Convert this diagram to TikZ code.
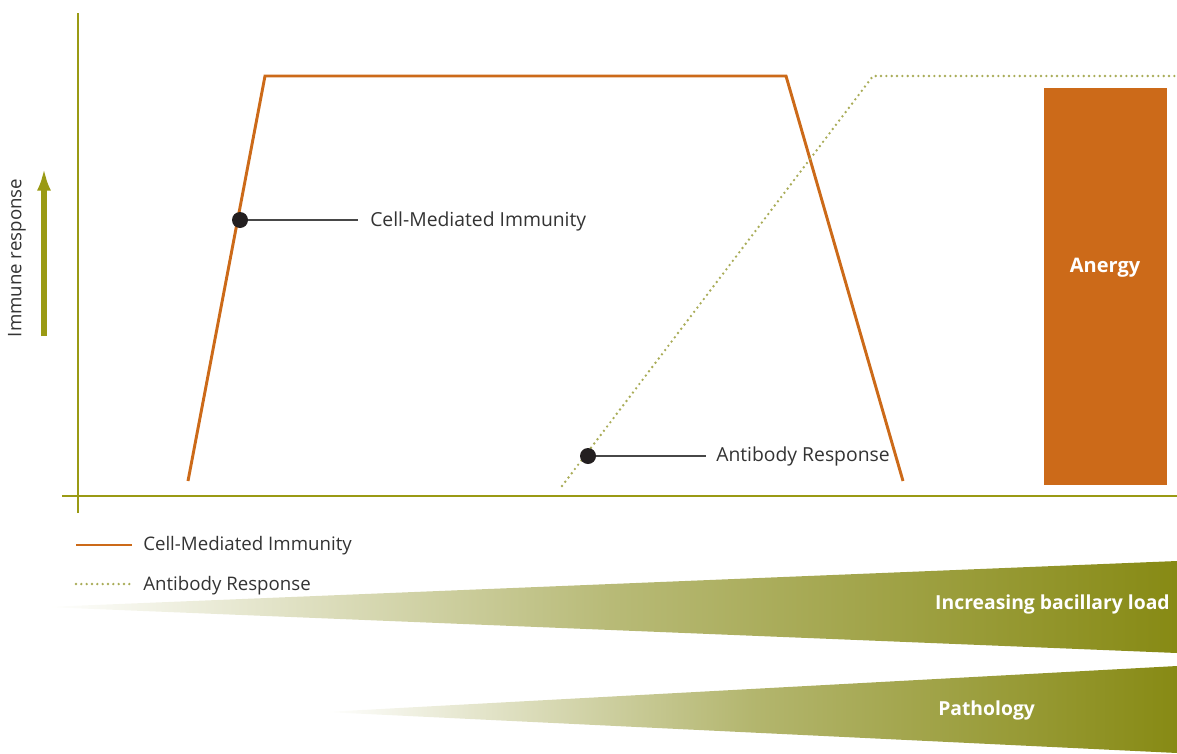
\documentclass[tikz,border=0pt]{standalone}
\usepackage{fontspec}
\setmainfont{Open Sans}
\usetikzlibrary{arrows.meta}
\definecolor{cmi}{HTML}{CC6A19}
\definecolor{axisc}{HTML}{9A9A14}
\definecolor{abc}{HTML}{A9AC58}
\definecolor{dotc}{HTML}{231F20}
\definecolor{txt}{HTML}{333333}
\definecolor{oliveend}{HTML}{878A14}
\definecolor{olivemid}{HTML}{A6A955}
\tikzset{
  axisline/.style={draw=axisc, line width=2.2pt},
  cmiline/.style={draw=cmi, line width=2.2pt, line join=miter},
  abline/.style={draw=abc, line width=2pt, line cap=round, dash pattern=on 0pt off 4pt},
  pointer/.style={draw=txt!90, line width=0.9pt},
  blob/.style={circle, fill=dotc, inner sep=0pt, minimum size=12pt},
  lbl/.style={text=txt, font=\fontsize{14}{16}\selectfont, anchor=west, inner sep=0pt},
  clbl/.style={text=txt, font=\fontsize{14.5}{17}\selectfont, anchor=west, inner sep=0pt},
  wlbl/.style={text=white, font=\bfseries\fontsize{14.5}{17}\selectfont, inner sep=0pt}
}
\begin{document}
\begin{tikzpicture}[x=0.75pt,y=-0.75pt]
\useasboundingbox (0,0) rectangle (1177,753);
% wedges
\shade[left color=white, right color=oliveend, middle color=olivemid!80!white] (45,607) -- (1177,561) -- (1177,653) -- cycle;
\shade[left color=white, right color=oliveend, middle color=olivemid!85!white] (325,712) -- (1177,666) -- (1177,753) -- cycle;
\node[wlbl, anchor=east] (bac) at (1170,604) {Increasing bacillary load};
\node[wlbl, anchor=west] (path) at (938,710) {Pathology};
% axes
\coordinate (yb) at (78,513);
\coordinate (yt) at (78,13);
\coordinate (xl) at (62,496);
\coordinate (xr) at (1177,496);
\draw[axisline] (yb) -- (yt);
\draw[axisline] (xl) -- (xr);
% y arrow
\coordinate (ab) at (44,336);
\coordinate (at) at (44,168);
\draw[draw=axisc, line width=4.5pt, -{Latex[length=17pt,width=10.5pt]}] (ab) -- (at);
\node[text=txt, font=\fontsize{14}{16}\selectfont, rotate=90, inner sep=0pt] (ir) at (17,258) {Immune response};
% anergy
\node[fill=cmi, minimum width=123*0.75pt, minimum height=397*0.75pt, inner sep=0pt, anchor=north west] (anergy) at (1044,88) {};
\node[wlbl, font=\bfseries\fontsize{15}{17}\selectfont] (anlbl) at (1105,268) {Anergy};
% curves
\coordinate (c1) at (188,481);
\coordinate (c2) at (265,76);
\coordinate (c3) at (786,76);
\coordinate (c4) at (903,481);
\draw[cmiline] (c1) -- (c2) -- (c3) -- (c4);
\coordinate (a1) at (562,486);
\coordinate (a2) at (873,76);
\coordinate (a3) at (1177,76);
\draw[abline] (a1) -- (a2) -- (a3);
% callouts
\node[blob] (d1) at (240,220) {};
\node[clbl] (t1) at (370,221) {Cell-Mediated Immunity};
\draw[pointer] (d1) -- (358,220) coordinate (p1);
\node[blob] (d2) at (588,456) {};
\node[clbl] (t2) at (716,456) {Antibody Response};
\draw[pointer] (d2) -- (706,456) coordinate (p2);
% legend
\coordinate (l1a) at (76,545);
\coordinate (l1b) at (132,545);
\draw[draw=cmi, line width=2pt] (l1a) -- (l1b);
\node[lbl] (lt1) at (143,546) {Cell-Mediated Immunity};
\coordinate (l2a) at (76,584);
\coordinate (l2b) at (132,584);
\draw[abline] (l2a) -- (l2b);
\node[lbl] (lt2) at (143,586) {Antibody Response};
\end{tikzpicture}
\end{document}
